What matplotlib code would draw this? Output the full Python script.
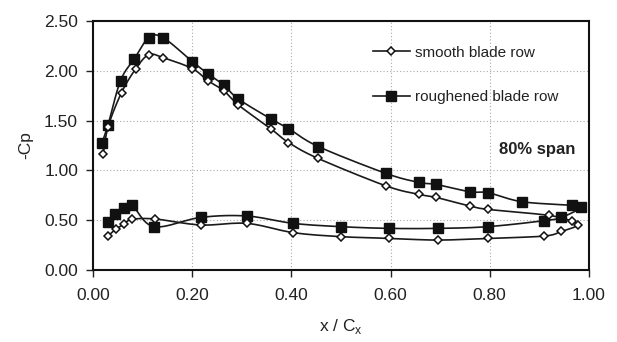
import numpy as np
import matplotlib
matplotlib.use("Agg")
import matplotlib.pyplot as plt

plt.rcParams['font.family'] = ['Liberation Sans', 'DejaVu Sans']

# smooth blade row: upper surface LE->TE, then lower surface TE->LE
smooth_x = [0.020, 0.030, 0.057, 0.086, 0.112, 0.141, 0.200, 0.231, 0.263, 0.293,
            0.359, 0.394, 0.454, 0.591, 0.658, 0.692, 0.760, 0.797, 0.920, 0.967, 0.978,
            0.945, 0.910, 0.796, 0.696, 0.597, 0.500, 0.404, 0.310, 0.217, 0.125,
            0.078, 0.061, 0.045, 0.030]
smooth_cp = [1.16, 1.44, 1.78, 2.02, 2.16, 2.13, 2.02, 1.90, 1.80, 1.655,
             1.415, 1.28, 1.12, 0.845, 0.76, 0.73, 0.644, 0.61, 0.55, 0.49, 0.45,
             0.39, 0.343, 0.32, 0.303, 0.32, 0.337, 0.377, 0.47, 0.454, 0.514,
             0.51, 0.46, 0.41, 0.345]

# roughened blade row
rough_x = [0.018, 0.030, 0.055, 0.083, 0.112, 0.141, 0.200, 0.231, 0.263, 0.293,
           0.359, 0.394, 0.454, 0.591, 0.658, 0.692, 0.760, 0.797, 0.865, 0.967, 0.985,
           0.945, 0.910, 0.796, 0.696, 0.597, 0.500, 0.404, 0.310, 0.217, 0.1225,
           0.078, 0.061, 0.044, 0.029]
rough_cp = [1.28, 1.46, 1.90, 2.12, 2.33, 2.33, 2.09, 1.97, 1.856, 1.715,
            1.515, 1.42, 1.24, 0.97, 0.88, 0.86, 0.787, 0.777, 0.687, 0.65, 0.63,
            0.53, 0.497, 0.437, 0.42, 0.42, 0.437, 0.47, 0.544, 0.53, 0.437,
            0.654, 0.62, 0.564, 0.48]

series_names = ["smooth blade row", "roughened blade row"]
x_ticks = [0.0, 0.2, 0.4, 0.6, 0.8, 1.0]
y_ticks = [0.0, 0.5, 1.0, 1.5, 2.0, 2.5]


def catmull(xs, ys, n=12, tension=0.5):
    xs = np.asarray(xs, float)
    ys = np.asarray(ys, float)
    P = np.column_stack([xs, ys])
    out = [P[0]]
    m = len(P)
    for i in range(m - 1):
        p0 = P[i - 1] if i > 0 else P[i]
        p1 = P[i]
        p2 = P[i + 1]
        p3 = P[i + 2] if i + 2 < m else P[i + 1]
        c1 = p1 + (p2 - p0) * tension / 3.0
        c2 = p2 - (p3 - p1) * tension / 3.0
        t = np.linspace(0, 1, n + 1)[1:, None]
        seg = ((1 - t) ** 3) * p1 + 3 * ((1 - t) ** 2) * t * c1 + 3 * (1 - t) * t ** 2 * c2 + t ** 3 * p2
        out.extend(seg)
    out = np.array(out)
    return out[:, 0], out[:, 1]


fig = plt.figure(figsize=(6.17, 3.42), dpi=100)
ax = fig.add_axes([0.1512, 0.2096, 0.8030, 0.7299])

sx, sy = catmull(smooth_x, smooth_cp)
rx, ry = catmull(rough_x, rough_cp)
ax.plot(sx, sy, color='#1a1a1a', lw=1.2, zorder=3)
ax.plot(rx, ry, color='#1a1a1a', lw=1.2, zorder=3)
ax.plot(rough_x, rough_cp, ls='none', marker='s', ms=6.5, mfc='#111111', mec='#111111', zorder=4)
ax.plot(smooth_x, smooth_cp, ls='none', marker='D', ms=4.5, mfc='white', mec='#111111', mew=1.1, zorder=5)

# legend handles
h1, = ax.plot([], [], color='#1a1a1a', lw=1.2, marker='D', ms=4.5, mfc='white', mec='#111111', mew=1.1)
h2, = ax.plot([], [], color='#1a1a1a', lw=1.2, marker='s', ms=6.5, mfc='#111111', mec='#111111')
leg = ax.legend([h1, h2], series_names, loc='upper left', bbox_to_anchor=(0.536, 0.955),
                frameon=False, fontsize=11, handlelength=2.45, handletextpad=0.3,
                labelspacing=2.0, labelcolor='#222222')

ax.text(0.973, 0.482, "80% span", transform=ax.transAxes, ha='right', va='center',
        fontsize=12, fontweight='bold', color='#222222')

ax.set_xlim(0, 1.0)
ax.set_ylim(0, 2.5)
ax.set_xticks(x_ticks)
ax.set_yticks(y_ticks)
ax.set_xticklabels([f"{v:.2f}" for v in x_ticks])
ax.set_yticklabels([f"{v:.2f}" for v in y_ticks])
ax.tick_params(axis='both', labelsize=12.5, colors='#222222', direction='out', length=5, width=1.0, pad=6)
ax.tick_params(axis='x', pad=8)

ax.grid(True, color='#aaaaaa', lw=0.8, ls=(0, (1, 2)))
ax.set_axisbelow(True)
for s in ax.spines.values():
    s.set_linewidth(1.5)
    s.set_color('#111111')

ax.set_ylabel("-Cp", fontsize=12.5, color='#222222', labelpad=8)
ax.set_xlabel("x / C$_\\mathregular{x}$", fontsize=12.5, color='#222222', labelpad=10)

fig.savefig("out.png", dpi=100)
